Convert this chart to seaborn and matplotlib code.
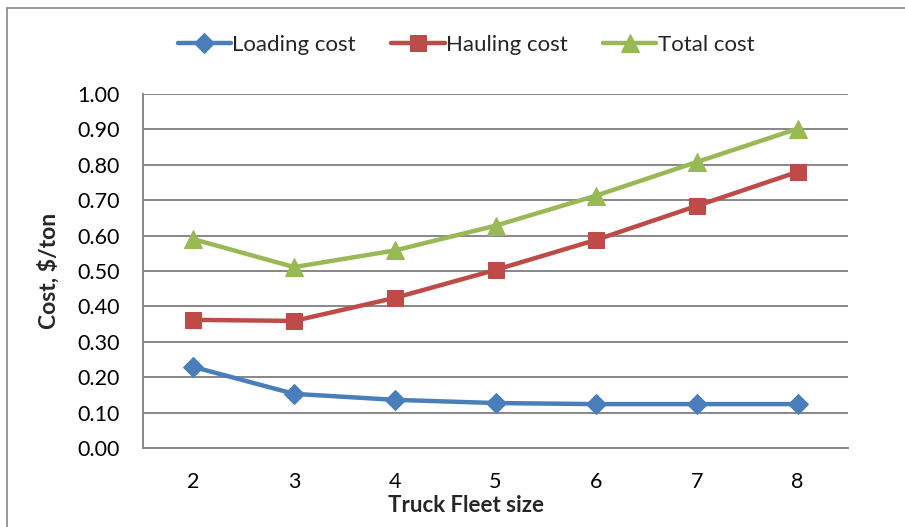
import matplotlib
matplotlib.use("Agg")
import matplotlib.pyplot as plt
from matplotlib.patches import Rectangle
import seaborn as sns
import pandas as pd

fleet_size = [2, 3, 4, 5, 6, 7, 8]
loading_cost = [0.229, 0.153, 0.136, 0.127, 0.124, 0.124, 0.124]
hauling_cost = [0.362, 0.359, 0.424, 0.503, 0.588, 0.684, 0.780]
total_cost = [0.590, 0.511, 0.558, 0.628, 0.713, 0.808, 0.902]
series_names = ["Loading cost", "Hauling cost", "Total cost"]
y_ticks = [0.0, 0.1, 0.2, 0.3, 0.4, 0.5, 0.6, 0.7, 0.8, 0.9, 1.0]

sns.set_theme(style="white")
plt.rcParams["font.family"] = ["Lato", "DejaVu Sans"]

rows = []
for name, vals in zip(series_names, [loading_cost, hauling_cost, total_cost]):
    for i, (x, v) in enumerate(zip(fleet_size, vals)):
        rows.append({"pos": i, "size": x, "cost": v, "series": name})
df = pd.DataFrame(rows)

colors = {"Loading cost": "#4A7EBB", "Hauling cost": "#BE4B48", "Total cost": "#98B954"}
markers = {"Loading cost": "D", "Hauling cost": "s", "Total cost": "^"}
msizes = {"Loading cost": 10.5, "Hauling cost": 12, "Total cost": 12.5}

W, H = 905, 527
left_px, right_px, top_px, bottom_px = 143, 848, 94, 448
fig = plt.figure(figsize=(W / 100, H / 100), dpi=100)
ax = fig.add_axes([left_px / W, 1 - bottom_px / H,
                   (right_px - left_px) / W, (bottom_px - top_px) / H])

for name in series_names:
    sub = df[df["series"] == name]
    sns.lineplot(data=sub, x="pos", y="cost", ax=ax, color=colors[name],
                 marker=markers[name], markersize=msizes[name],
                 markeredgecolor=colors[name], linewidth=3.2, label=name,
                 sort=False)

ax.set_xlim(-0.5, len(fleet_size) - 0.5)
ax.set_ylim(0, 1.0)
ax.set_yticks(y_ticks)
ax.set_yticklabels([f"{t:.2f}" for t in y_ticks], fontsize=15.5)
ax.set_xticks(range(len(fleet_size)))
ax.set_xticklabels([str(s) for s in fleet_size], fontsize=15.5)
ax.tick_params(axis="both", length=0, colors="black")
ax.tick_params(axis="y", pad=16.5)
ax.tick_params(axis="x", pad=17)

ax.yaxis.grid(True, color="#878787", linewidth=1.4)
ax.set_axisbelow(True)
for side in ["top", "right"]:
    ax.spines[side].set_visible(False)
for side in ["left", "bottom"]:
    ax.spines[side].set_color("#878787")
    ax.spines[side].set_linewidth(1.4)

# titles are centred on the whole chart area rather than on the plot area
chart_center = (466 - left_px) / (right_px - left_px)
ax.set_xlabel("Truck Fleet size", fontsize=16, fontweight="bold")
ax.xaxis.set_label_coords(chart_center, -(505 - bottom_px) / (bottom_px - top_px))
ax.xaxis.label.set_va("center")
ax.set_ylabel("Cost, $/ton", fontsize=16.5, fontweight="bold", labelpad=13)

leg = ax.legend(loc="center", bbox_to_anchor=(chart_center, 1 + (94 - 45) / (bottom_px - top_px)),
                ncol=3, frameon=False, fontsize=16, handlelength=2.4,
                handletextpad=0.05, columnspacing=1.6)

# outer chart frame
fig.patches.append(Rectangle((7 / W, -0.05), 1.0, 1 - 8 / H + 0.05,
                             transform=fig.transFigure, fill=False,
                             edgecolor="#878787", linewidth=1.2))

fig.savefig("out.png", dpi=100, facecolor="white")
